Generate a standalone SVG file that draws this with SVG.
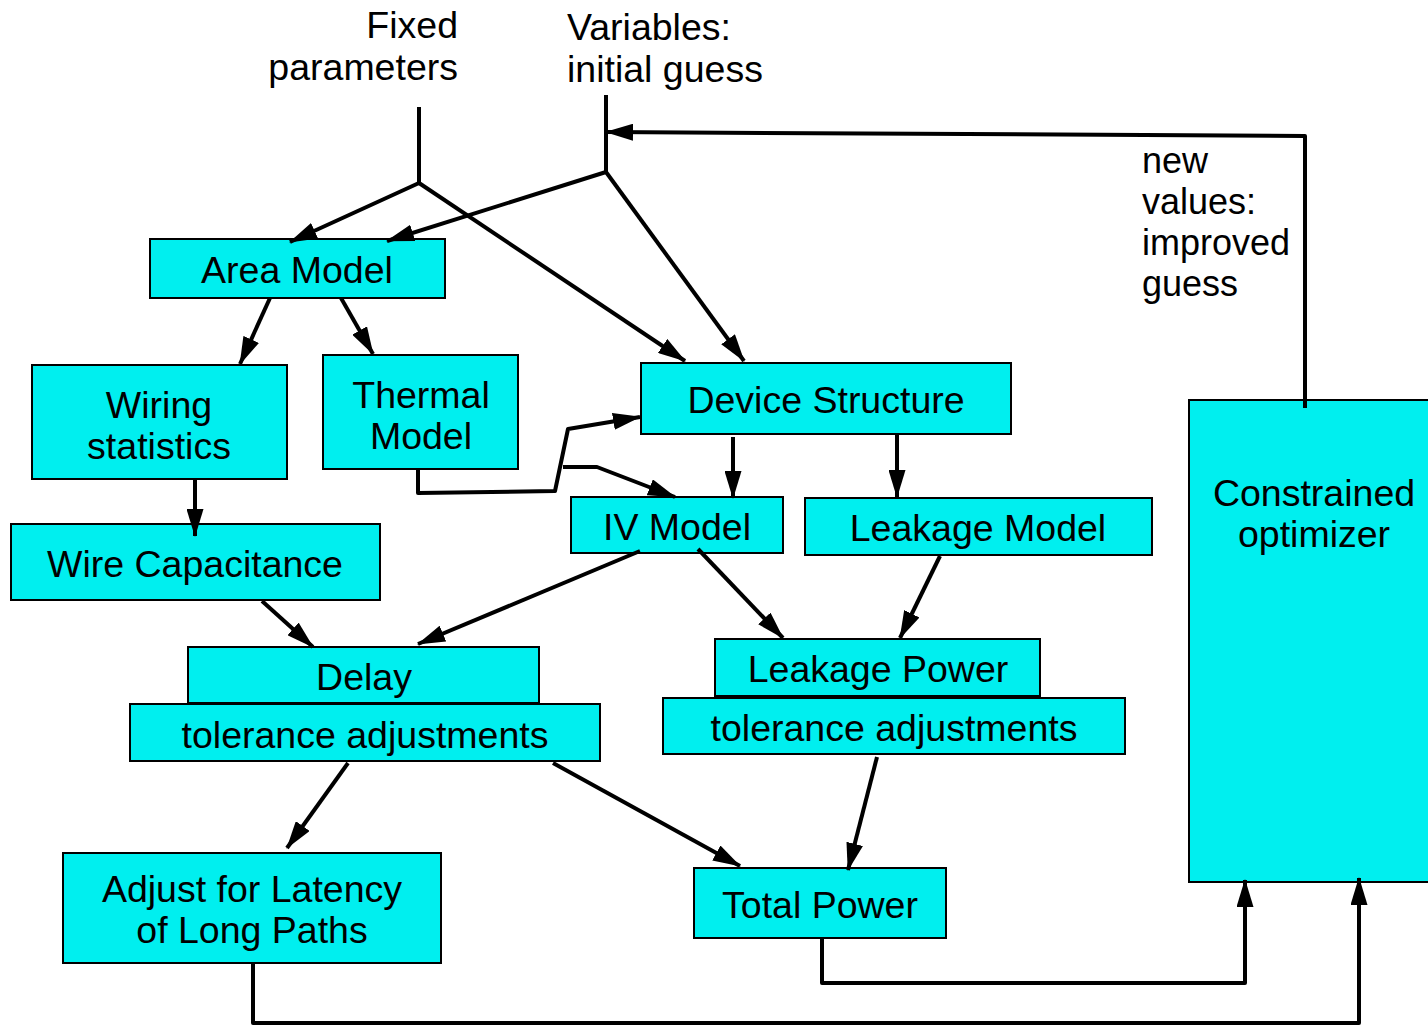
<svg xmlns="http://www.w3.org/2000/svg" width="1428" height="1026" viewBox="0 0 1428 1026">
<style>
.box{fill:#00EFEF;stroke:#000;stroke-width:2}
.t{font-family:"Liberation Sans",Arial,sans-serif;font-size:37.5px;fill:#000;text-anchor:middle}
.lbl{font-family:"Liberation Sans",Arial,sans-serif;font-size:37.5px;fill:#000}
.lbl2{font-family:"Liberation Sans",Arial,sans-serif;font-size:36px;fill:#000}
.c{fill:none;stroke:#000;stroke-width:4;stroke-linejoin:round}
.a{marker-end:url(#ah)}
</style>
<defs>
<marker id="ah" markerUnits="userSpaceOnUse" markerWidth="28" markerHeight="17" refX="27" refY="8.5" orient="auto">
<path d="M0,0 L28,8.5 L0,17 Z" fill="#000"/>
</marker>
</defs>
<rect width="1428" height="1026" fill="#fff"/>
<g id="labels">
<text class="lbl" x="458" y="38" text-anchor="end">Fixed</text>
<text class="lbl" x="458" y="80" text-anchor="end">parameters</text>
<text class="lbl" x="567" y="40">Variables:</text>
<text class="lbl" x="567" y="82">initial guess</text>
<text class="lbl2" x="1142" y="173">new</text>
<text class="lbl2" x="1142" y="214">values:</text>
<text class="lbl2" x="1142" y="255">improved</text>
<text class="lbl2" x="1142" y="296">guess</text>
</g>
<g id="area-model"><rect class="box" x="150" y="239" width="295" height="59"/><text class="t" x="297" y="283">Area Model</text></g>
<g id="wiring-statistics"><rect class="box" x="32" y="365" width="255" height="114"/><text class="t" x="159" y="418">Wiring</text><text class="t" x="159" y="459">statistics</text></g>
<g id="thermal-model"><rect class="box" x="323" y="355" width="195" height="114"/><text class="t" x="421" y="408">Thermal</text><text class="t" x="421" y="449">Model</text></g>
<g id="device-structure"><rect class="box" x="641" y="363" width="370" height="71"/><text class="t" x="826" y="413">Device Structure</text></g>
<g id="iv-model"><rect class="box" x="571" y="497" width="212" height="56"/><text class="t" x="677" y="540">IV Model</text></g>
<g id="leakage-model"><rect class="box" x="805" y="498" width="347" height="57"/><text class="t" x="978" y="541">Leakage Model</text></g>
<g id="wire-capacitance"><rect class="box" x="11" y="524" width="369" height="76"/><text class="t" x="195" y="577">Wire Capacitance</text></g>
<g id="delay"><rect class="box" x="188" y="647" width="351" height="56"/><text class="t" x="364" y="690">Delay</text></g>
<g id="delay-tolerance"><rect class="box" x="130" y="704" width="470" height="57"/><text class="t" x="365" y="748">tolerance adjustments</text></g>
<g id="leakage-power"><rect class="box" x="715" y="639" width="325" height="57"/><text class="t" x="878" y="682">Leakage Power</text></g>
<g id="leakage-tolerance"><rect class="box" x="663" y="698" width="462" height="56"/><text class="t" x="894" y="741">tolerance adjustments</text></g>
<g id="adjust-latency"><rect class="box" x="63" y="853" width="378" height="110"/><text class="t" x="252" y="902">Adjust for Latency</text><text class="t" x="252" y="943">of Long Paths</text></g>
<g id="total-power"><rect class="box" x="694" y="868" width="252" height="70"/><text class="t" x="820" y="918">Total Power</text></g>
<g id="constrained-optimizer"><rect class="box" x="1189" y="400" width="245" height="482"/><text class="t" x="1314" y="506">Constrained</text><text class="t" x="1314" y="547">optimizer</text></g>
<g id="connectors">
<path class="c" d="M419,107 L419,183"/>
<path class="c a" d="M419,183 L290,242"/>
<path class="c a" d="M419,183 L685,361"/>
<path class="c" d="M606,95 L606,172"/>
<path class="c a" d="M606,172 L387,241"/>
<path class="c a" d="M606,172 L744,361"/>
<path class="c a" d="M1305,408 L1305,136 L606,132"/>
<path class="c a" d="M270,298 L240,364"/>
<path class="c a" d="M341,298 L373,354"/>
<path class="c a" d="M195,480 L195,536"/>
<path class="c a" d="M418,468 L418,493 L555,491 L568,429 L640,417"/>
<path class="c a" d="M563,467 L597,467 L675,497"/>
<path class="c a" d="M733,437 L733,498"/>
<path class="c a" d="M897,435 L897,497"/>
<path class="c a" d="M640,551 L418,644"/>
<path class="c a" d="M698,549 L783,638"/>
<path class="c a" d="M262,601 L313,647"/>
<path class="c a" d="M940,556 L900,638"/>
<path class="c a" d="M348,763 L287,848"/>
<path class="c a" d="M553,763 L740,866"/>
<path class="c a" d="M877,757 L848,870"/>
<path class="c a" d="M822,938 L822,983 L1245,983 L1245,880"/>
<path class="c a" d="M253,963 L253,1023 L1359,1023 L1359,878"/>
</g>
</svg>
